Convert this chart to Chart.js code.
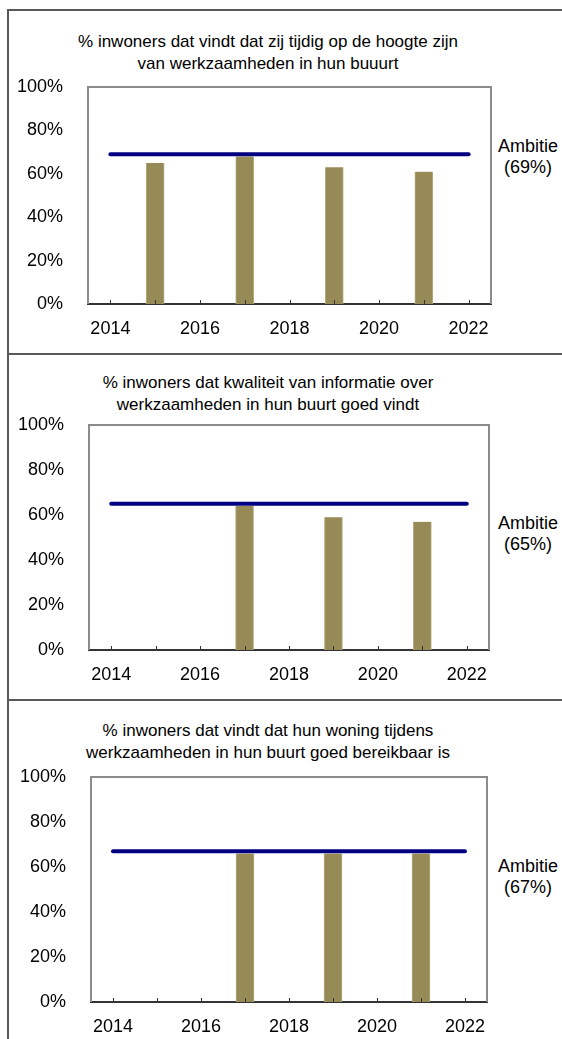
<!DOCTYPE html>
<html>
<head>
<meta charset="utf-8">
<script src="https://cdn.jsdelivr.net/npm/chart.js@4.4.1/dist/chart.umd.min.js"></script>
<style>
	html, body {
		margin: 0;
		padding: 0;
		width: 562px;
		height: 1039px;
		overflow: hidden;
		background: #fff;
		font-family: "Liberation Sans", Arial, sans-serif;
	}
	.hline, .vline {
		position: absolute;
		background: #595959;
	}
	.hline { left: 8px; width: 560px; height: 2px; }
	.vline { left: 7px; top: 9px; width: 2px; height: 1040px; }
	canvas { position: absolute; left: 0; }
	.title, .ambitie {
		position: absolute;
		text-align: center;
		font-size: 18px;
		line-height: 22px;
		color: #000;
		white-space: nowrap;
	}
	.title { left: 0; width: 536px; font-size: 17px; }
	.ambitie { left: 494px; width: 68px; line-height: 21px; }
</style>
</head>
<body>
<div class="vline"></div>
<div id="root"></div>
<script>
	/* data */
	const xYears = [2014, 2015, 2016, 2017, 2018, 2019, 2020, 2021, 2022];
	const xLabelYears = [2014, 2016, 2018, 2020, 2022];
	const yTicks = [0, 20, 40, 60, 80, 100];

	const titles = [
		["% inwoners dat vindt dat zij tijdig op de hoogte zijn", "van werkzaamheden in hun buuurt"],
		["% inwoners dat kwaliteit van informatie over", "werkzaamheden in hun buurt goed vindt"],
		["% inwoners dat vindt dat hun woning tijdens", "werkzaamheden in hun buurt goed bereikbaar is"]
	];

	const barYears1 = [2015, 2017, 2019, 2021];
	const barValues1 = [65, 68, 63, 61];
	const barYears2 = [2017, 2019, 2021];
	const barValues2 = [64, 59, 57];
	const barYears3 = [2017, 2019, 2021];
	const barValues3 = [66, 66, 66];
	const ambitie = [69, 65, 67];

	/* panel placement (page pixels) */
	const panels = [
		{ top: 10, height: 344, area: { left: 88, right: 491, top: 87, bottom: 304 }, titleY: 42, ambY: 146, bars: [barYears1, barValues1] },
		{ top: 354, height: 346, area: { left: 89, right: 489, top: 425, bottom: 650 }, titleY: 383, ambY: 523, bars: [barYears2, barValues2] },
		{ top: 700, height: 360, area: { left: 91, right: 487, top: 777, bottom: 1002 }, titleY: 731, ambY: 866, bars: [barYears3, barValues3] }
	];

	const family = "'Liberation Sans', Arial, sans-serif";
	const root = document.getElementById("root");

	/*gray frame round the plot area, bottom is the x axis itself*/
	const framePlugin = {
		id: "frame",
		beforeDatasetsDraw(chart) {
			const { ctx, chartArea: a } = chart;
			ctx.save();
			ctx.strokeStyle = "#8c8c8c";
			ctx.lineWidth = 2;
			ctx.beginPath();
			ctx.moveTo(a.left, a.bottom);
			ctx.lineTo(a.left, a.top);
			ctx.lineTo(a.right, a.top);
			ctx.lineTo(a.right, a.bottom);
			ctx.stroke();
			ctx.restore();
		},
		/*small inside tick marks on the x axis, one per year*/
		afterDatasetsDraw(chart) {
			const { ctx, chartArea: a, scales } = chart;
			ctx.save();
			ctx.strokeStyle = "#333";
			ctx.lineWidth = 1;
			ctx.beginPath();
			scales.x.ticks.forEach(t => {
				const x = Math.round(scales.x.getPixelForValue(t.value)) + 0.5;
				ctx.moveTo(x, a.bottom);
				ctx.lineTo(x, a.bottom - 4);
			});
			ctx.stroke();
			ctx.restore();
		}
	};

	panels.forEach((p, i) => {
		const line = document.createElement("div");
		line.className = "hline";
		line.style.top = (p.top - 1) + "px";
		root.appendChild(line);

		const title = document.createElement("div");
		title.className = "title";
		title.style.top = (p.titleY - 11) + "px";
		title.innerHTML = titles[i].join("<br>");
		root.appendChild(title);

		const amb = document.createElement("div");
		amb.className = "ambitie";
		amb.style.top = (p.ambY - 10) + "px";
		amb.innerHTML = `Ambitie<br>(${ambitie[i]}%)`;
		root.appendChild(amb);

		const canvas = document.createElement("canvas");
		canvas.width = 562;
		canvas.height = p.height;
		canvas.style.top = p.top + "px";
		root.appendChild(canvas);

		const a = p.area;
		const xAxisHeight = 45;
		const [years, values] = p.bars;

		new Chart(canvas.getContext("2d"), {
			type: "bar",
			data: {
				datasets: [
					{
						type: "line",
						data: [
							{ x: xYears[0], y: ambitie[i] },
							{ x: xYears[xYears.length - 1], y: ambitie[i] }
						],
						borderColor: "#000080",
						borderWidth: 4,
						borderCapStyle: "round",
						pointRadius: 0,
						order: 1
					},
					{
						type: "bar",
						data: years.map((x, k) => ({ x: x, y: values[k] })),
						backgroundColor: "#968b57",
						borderColor: "#b3aa80",
						borderWidth: { left: 1, right: 1, top: 0, bottom: 0 },
						borderSkipped: false,
						barThickness: 18,
						order: 2
					}
				]
			},
			options: {
				responsive: false,
				animation: false,
				layout: {
					padding: {
						left: 0,
						right: 562 - a.right,
						top: a.top - p.top,
						bottom: p.height - (a.bottom - p.top) - xAxisHeight
					}
				},
				plugins: {
					legend: { display: false },
					tooltip: { enabled: false }
				},
				scales: {
					x: {
						type: "linear",
						offset: false,
						min: xYears[0] - 0.5,
						max: xYears[xYears.length - 1] + 0.5,
						afterBuildTicks: s => {
							s.ticks = xYears.map(v => ({ value: v }));
						},
						afterFit: s => {
							s.height = xAxisHeight;
						},
						ticks: {
							autoSkip: false,
							maxRotation: 0,
							padding: 6,
							color: "#000",
							font: { size: 18, family: family },
							callback: v => (xLabelYears.includes(v) ? String(v) : "")
						},
						grid: {
							offset: false,
							display: false
						},
						border: { display: true, color: "#333", width: 2 }
					},
					y: {
						min: yTicks[0],
						max: yTicks[yTicks.length - 1],
						afterBuildTicks: s => {
							s.ticks = yTicks.map(v => ({ value: v }));
						},
						afterFit: s => {
							s.width = a.left;
						},
						ticks: {
							padding: 17,
							color: "#000",
							font: { size: 18, family: family },
							callback: v => v + "%"
						},
						grid: { display: false },
						border: { display: false }
					}
				}
			},
			plugins: [framePlugin]
		});
	});
</script>
</body>
</html>
